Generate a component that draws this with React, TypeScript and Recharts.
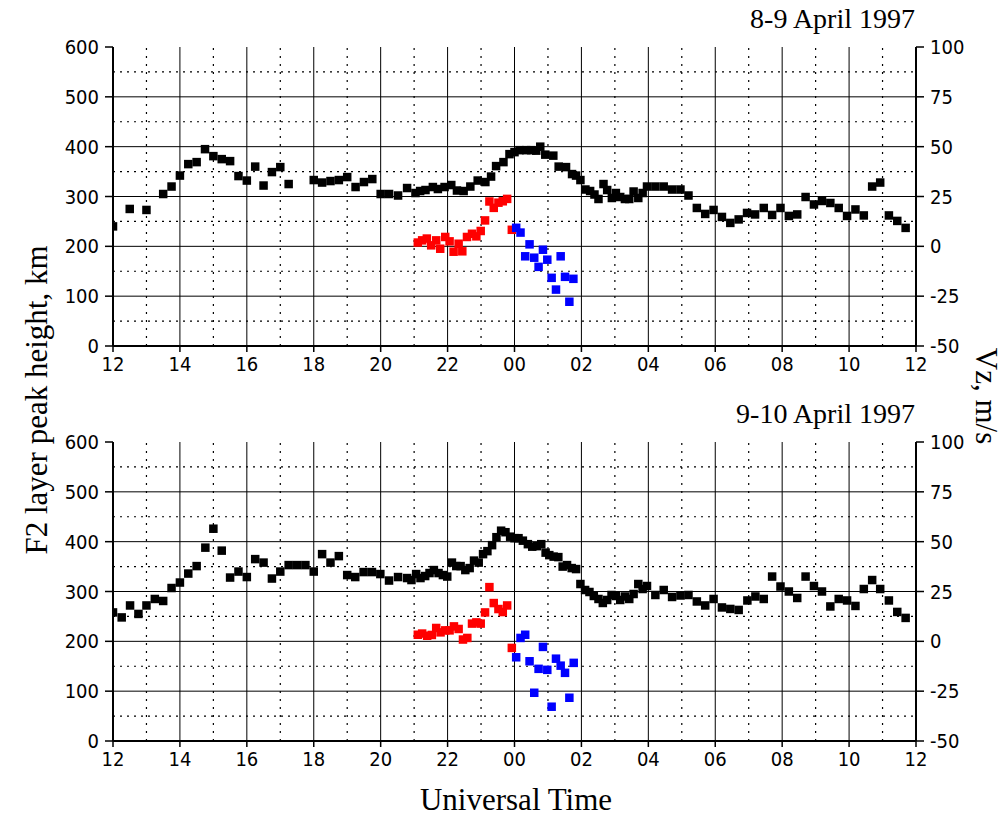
import React from 'react';
import { ComposedChart, Scatter, XAxis, YAxis, ReferenceLine } from 'recharts';

// hours counted from 12 UT of the first day
const hourTicks = [0, 2, 4, 6, 8, 10, 12, 14, 16, 18, 20, 22, 24];
const evenHours = [2, 4, 6, 8, 10, 12, 14, 16, 18, 20, 22];
const oddHours = [1, 3, 5, 7, 9, 11, 13, 15, 17, 19, 21, 23];
const topTicks = [0, 2.4, 4.8, 7.2, 9.6, 12, 14.4, 16.8, 19.2, 21.6, 24];
const heightTicks = [0, 100, 200, 300, 400, 500, 600];
const heightSolid = [100, 200, 300, 400, 500];
const heightDotted = [50, 150, 250, 350, 450, 550];
const vzTicks = [-50, -25, 0, 25, 50, 75, 100];

// 8-9 April 1997
const apr8HmT = [0, 0.5, 1, 1.5, 1.75, 2, 2.25, 2.5, 2.75, 3, 3.25, 3.5, 3.75, 4, 4.25, 4.5, 4.75, 5, 5.25,
  6, 6.25, 6.5, 6.75, 7, 7.25, 7.5, 7.75, 8, 8.25, 8.52, 8.79, 9.04, 9.18, 9.34, 9.56, 9.71, 9.91, 10.11,
  10.28, 10.48, 10.68, 10.9, 11.13, 11.3, 11.45, 11.67, 11.85, 12, 12.15, 12.35, 12.5, 12.65, 12.77, 12.92,
  13.16, 13.32, 13.54, 13.72, 13.84, 13.97, 14.12, 14.26, 14.39, 14.51, 14.66, 14.77, 14.91, 15.03, 15.16,
  15.3, 15.43, 15.56, 15.7, 15.83, 15.96, 16.21, 16.46, 16.71, 16.96, 17.2, 17.45, 17.7, 17.95, 18.2, 18.45,
  18.7, 18.95, 19.19, 19.45, 19.7, 19.95, 20.2, 20.45, 20.7, 20.95, 21.19, 21.44, 21.69, 21.94, 22.19, 22.44,
  22.69, 22.93, 23.19, 23.44, 23.69];
const apr8Hm = [240, 275, 273, 305, 320, 342, 365, 369, 395, 381, 375, 371, 341, 332, 360, 322, 349, 359, 325,
  333, 328, 331, 333, 339, 319, 329, 335, 305, 305, 302, 317, 307, 311, 313, 319, 315, 319, 323,
  312, 311, 320, 332, 329, 340, 361, 369, 385, 389, 393, 393, 393, 392, 400, 384,
  382, 360, 359, 345, 342, 333, 314, 311, 304, 295, 325, 313, 297, 307, 299,
  295, 295, 310, 297, 307, 320, 320, 320, 314, 314, 302, 277, 265, 273, 259, 247,
  254, 267, 264, 277, 263, 277, 261, 264, 299, 284, 291, 287, 277, 261, 274, 262,
  320, 328, 262, 251, 237];
const apr8UpT = [9.11, 9.24, 9.38, 9.51, 9.66, 9.78, 9.93, 10.06, 10.18, 10.33, 10.44, 10.58, 10.73, 10.86,
  10.99, 11.12, 11.25, 11.38, 11.52, 11.65, 11.78, 11.92];
const apr8Up = [1.9, 3, 3.9, 0.5, 3, -1.2, 4.7, 2.5, -2.7, 1.3, -2.5, 4.7, 6.3, 5, 7.7, 13, 22.5, 19.3, 21.9,
  22.6, 23.8, 8.3];
const apr8DownT = [12.05, 12.18, 12.32, 12.45, 12.59, 12.72, 12.85, 12.98, 13.11, 13.24, 13.38, 13.51, 13.64, 13.76];
const apr8Down = [9.3, 6.9, -5, 1, -5.7, -10.3, -1.7, -6.7, -15.8, -21.7, -5, -15.3, -27.8, -16.3];

// 9-10 April 1997
const apr9HmT = [0, 0.26, 0.51, 0.76, 1, 1.25, 1.5, 1.75, 2, 2.25, 2.5, 2.76, 3, 3.25, 3.5, 3.75, 4, 4.25, 4.5,
  4.75, 5, 5.25, 5.5, 5.75, 6, 6.25, 6.5, 6.75, 7, 7.24, 7.49, 7.74, 7.99, 8.25, 8.52, 8.79, 8.92, 9.06, 9.19,
  9.33, 9.46, 9.59, 9.73, 9.86, 9.99, 10.13, 10.26, 10.39, 10.53, 10.66, 10.79, 10.93, 11.06, 11.19, 11.33,
  11.46, 11.6, 11.73, 11.87, 12, 12.12, 12.25, 12.4, 12.53, 12.67, 12.8, 12.93, 13.04, 13.17, 13.31, 13.44,
  13.57, 13.71, 13.84, 13.97, 14.11, 14.24, 14.37, 14.51, 14.64, 14.77, 14.9, 15.03, 15.16, 15.3, 15.43, 15.56,
  15.7, 15.83, 15.96, 16.21, 16.46, 16.71, 16.96, 17.2, 17.45, 17.7, 17.95, 18.2, 18.45, 18.7, 18.96, 19.2,
  19.45, 19.7, 19.95, 20.2, 20.45, 20.7, 20.95, 21.19, 21.44, 21.69, 21.94, 22.19, 22.44, 22.69, 22.93, 23.19,
  23.44, 23.69];
const apr9Hm = [258, 248, 272, 255, 272, 285, 281, 307, 318, 336, 351, 388, 426, 382, 328, 340, 329, 365, 358,
  326, 340, 353, 353, 353, 340, 375, 358, 371, 333, 329, 339, 339, 335, 322, 329, 327, 323, 335, 327,
  331, 337, 343, 337, 333, 330, 358, 351, 351, 343, 347, 362, 358, 375, 381, 393,
  409, 422, 419, 410, 407, 407, 402, 395, 390, 391, 395, 378, 373, 370, 369, 350,
  353, 347, 345, 315, 303, 299, 291, 285, 277, 283, 293, 291, 283, 290, 285, 295,
  315, 305, 311, 293, 303, 289, 292, 293, 280, 272, 285, 268, 265, 263, 282, 290,
  285, 330, 310, 300, 287, 330, 311, 300, 270, 285, 282, 271, 305, 323, 305, 282,
  259, 247];
const apr9UpT = [9.11, 9.24, 9.39, 9.53, 9.66, 9.79, 9.93, 10.06, 10.19, 10.33, 10.46, 10.59, 10.73, 10.86,
  10.99, 11.12, 11.25, 11.38, 11.52, 11.65, 11.78, 11.92];
const apr9Up = [3.3, 3.9, 2.8, 3.2, 6.7, 4.5, 5.5, 5.5, 7.5, 6.2, 0.9, 1.7, 8.9, 9.5, 8.9, 14.5, 27.2, 19.2,
  16.2, 14.7, 18, -3.3];
const apr9DownT = [12.05, 12.18, 12.32, 12.45, 12.59, 12.72, 12.85, 12.98, 13.11, 13.24, 13.38, 13.51, 13.64, 13.77];
const apr9Down = [-8, 1.7, 3.3, -10, -25.8, -13.8, -2.8, -14.3, -32.8, -8.7, -12.2, -15.8, -28.3, -10.8];

const zip = (t: number[], v: number[]) => t.map((x, i) => ({ t: x, v: v[i] }));

const fmtHour = (h: number) => String((12 + h) % 24).padStart(2, '0');

const square = (color: string) => (p: any) =>
  <rect x={p.cx - 4.25} y={p.cy - 4.25} width={8.5} height={8.5} fill={color} />;

const tickFont = { fill: '#000', fontSize: 20, fontFamily: "'Liberation Sans Narrow', 'DejaVu Sans Condensed', 'Liberation Sans', sans-serif" };
const axisLine = { stroke: '#000', strokeWidth: 2 };
const tickLine = { stroke: '#000', strokeWidth: 1.5 };

interface PanelProps {
  top: number;
  heights: { t: number; v: number }[];
  up: { t: number; v: number }[];
  down: { t: number; v: number }[];
}

const Panel = ({ top, heights, up, down }: PanelProps) => (
  <div style={{ position: 'absolute', left: 0, top }}>
    <ComposedChart width={1008} height={400} margin={{ top: 47, right: 32, bottom: 24, left: 53 }}>
      <XAxis xAxisId="b" type="number" dataKey="t" domain={[0, 24]} ticks={hourTicks} tickFormatter={fmtHour}
        tick={tickFont} axisLine={axisLine} tickLine={tickLine} tickSize={6} tickMargin={5} height={30}
        interval={0} allowDataOverflow />
      <XAxis xAxisId="top" orientation="top" type="number" dataKey="t" domain={[0, 24]} ticks={topTicks}
        tick={false} mirror axisLine={axisLine} tickLine={tickLine} tickSize={6} height={0} allowDataOverflow />
      <YAxis yAxisId="h" type="number" domain={[0, 600]} ticks={heightTicks} tick={tickFont}
        axisLine={axisLine} tickLine={tickLine} tickSize={8} tickMargin={6} width={60} interval={0} allowDataOverflow />
      <YAxis yAxisId="vz" orientation="right" type="number" domain={[-50, 100]} ticks={vzTicks} tick={tickFont}
        axisLine={axisLine} tickLine={tickLine} tickSize={8} tickMargin={6} width={60} interval={0} allowDataOverflow />
      {evenHours.map(h => (
        <ReferenceLine key={'e' + h} xAxisId="b" yAxisId="h" x={h} stroke="#000" strokeWidth={1} />
      ))}
      {oddHours.map(h => (
        <ReferenceLine key={'o' + h} xAxisId="b" yAxisId="h" x={h} stroke="#000" strokeWidth={1.2} strokeDasharray="2 6" />
      ))}
      {heightSolid.map(v => (
        <ReferenceLine key={'s' + v} xAxisId="b" yAxisId="h" y={v} stroke="#000" strokeWidth={1} />
      ))}
      {heightDotted.map(v => (
        <ReferenceLine key={'d' + v} xAxisId="b" yAxisId="h" y={v} stroke="#000" strokeWidth={1.2} strokeDasharray="2 5" />
      ))}
      <Scatter xAxisId="b" yAxisId="h" data={heights} dataKey="v" shape={square('#000')} isAnimationActive={false} />
      <Scatter xAxisId="b" yAxisId="vz" data={up} dataKey="v" shape={square('#ff0000')} isAnimationActive={false} />
      <Scatter xAxisId="b" yAxisId="vz" data={down} dataKey="v" shape={square('#0000ff')} isAnimationActive={false} />
    </ComposedChart>
  </div>
);

const serif = "'Liberation Serif', 'Times New Roman', serif";

export default function App() {
  return (
    <div style={{ position: 'absolute', left: 0, top: 0, width: 1008, height: 817, background: '#fff' }}>
      <Panel top={0} heights={zip(apr8HmT, apr8Hm)} up={zip(apr8UpT, apr8Up)} down={zip(apr8DownT, apr8Down)} />
      <Panel top={395} heights={zip(apr9HmT, apr9Hm)} up={zip(apr9UpT, apr9Up)} down={zip(apr9DownT, apr9Down)} />
      <div style={{ position: 'absolute', right: 93, top: 3, fontFamily: serif, fontSize: 28, lineHeight: '32px' }}>
        8-9 April 1997
      </div>
      <div style={{ position: 'absolute', right: 93, top: 398, fontFamily: serif, fontSize: 28, lineHeight: '32px' }}>
        9-10 April 1997
      </div>
      <div style={{
        position: 'absolute', left: 37, top: 400, transform: 'translate(-50%, -50%) rotate(-90deg)',
        fontFamily: serif, fontSize: 31, whiteSpace: 'nowrap', lineHeight: '34px'
      }}>
        F2 layer peak height, km
      </div>
      <div style={{
        position: 'absolute', left: 986, top: 396, transform: 'translate(-50%, -50%) rotate(90deg)',
        fontFamily: serif, fontSize: 31, whiteSpace: 'nowrap', lineHeight: '34px'
      }}>
        Vz, m/s
      </div>
      <div style={{
        position: 'absolute', left: 516, top: 800, transform: 'translate(-50%, -50%)',
        fontFamily: serif, fontSize: 31, whiteSpace: 'nowrap', lineHeight: '34px'
      }}>
        Universal Time
      </div>
    </div>
  );
}
